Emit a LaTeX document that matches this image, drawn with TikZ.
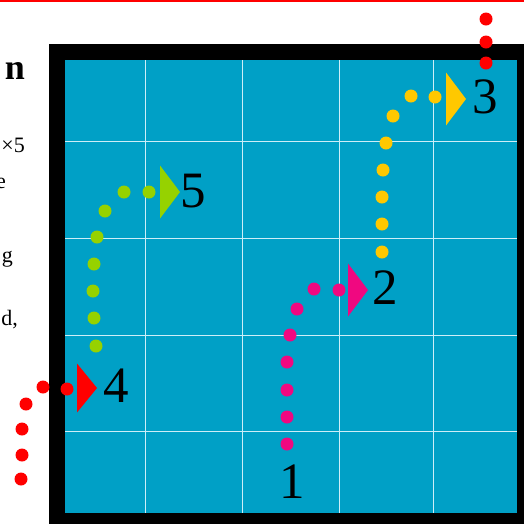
\documentclass[tikz,border=0pt]{standalone}
\usepackage{fontspec}
\setmainfont{Liberation Serif}
\usepackage{xcolor}
\usepackage{tikz}
\definecolor{board}{RGB}{0,160,198}
\definecolor{gridline}{RGB}{205,238,248}
\definecolor{pathpink}{RGB}{240,8,128}
\definecolor{pathyellow}{RGB}{255,200,0}
\definecolor{pathgreen}{RGB}{150,210,0}
\definecolor{pathred}{RGB}{255,0,0}

\begin{document}
\begin{tikzpicture}[x=1pt, y=-1pt]

  \tikzset{dot/.style={circle, fill, inner sep=0pt, minimum size=13pt},
           num/.style={font=\fontsize{51}{56}\selectfont, inner sep=0pt},
           txt/.style={font=\fontsize{22}{26}\selectfont, anchor=base east, inner sep=0pt}}

  \useasboundingbox (0,0) rectangle (524,523);
  \clip (0,0) rectangle (524,523);

  \draw[pathred, line width=1.7pt] (0,0.85) -- (524,0.85);

  % page text, cut off by the board
  \node[txt, font=\fontsize{36}{40}\selectfont\bfseries] (head) at (25,79) {n};
  \node[txt] (t1) at (25,152) {×5};
  \node[txt] (t2) at (6,188) {e};
  \node[txt] (t3) at (13,262) {g};
  \node[txt] (t4) at (18,325) {d,};

  % the board
  \fill[black] (49,44) rectangle (540,540);
  \fill[board] (65,60) rectangle (517,513);
  \foreach \x in {145,242,339,433}
    \draw[gridline, line width=1pt] (\x,60) -- (\x,513);
  \foreach \y in {141,238,335,431}
    \draw[gridline, line width=1pt] (65,\y) -- (517,\y);

  % the dotted moves
  \foreach \p [count=\i] in {(287,444),(287,417),(287,390),(287,362),
                             (290,335),(297,309),(314,289),(339,290)}
    \node[dot, pathpink] (pink\i) at \p {};
  \foreach \p [count=\i] in {(382,252),(382,224),(382,197),(383,170),
                             (386,143),(393,116),(411,96),(435,97)}
    \node[dot, pathyellow] (yellow\i) at \p {};
  \foreach \p [count=\i] in {(96,346),(94,318),(93,291),(94,264),
                             (97,237),(105,211),(124,192),(149,192)}
    \node[dot, pathgreen] (green\i) at \p {};
  \foreach \p [count=\i] in {(21,479),(22,455),(22,429),(26,404),
                             (43,387),(67,389)}
    \node[dot, pathred] (redin\i) at \p {};
  \foreach \p [count=\i] in {(486,19),(486,42),(486,63)}
    \node[dot, pathred] (redout\i) at \p {};

  % arrow heads
  \foreach \c/\x/\y/\h in {pathpink/348/290/26.5, pathyellow/446/99/26.5,
                           pathgreen/160/192/26.5, pathred/77/388/24.5}
    \fill[\c] (\x,\y-\h) -- (\x+20,\y) -- (\x,\y+\h) -- cycle;

  % square numbers
  \node[num] (n1) at (292,482) {1};
  \node[num] (n2) at (385,288) {2};
  \node[num] (n3) at (485,97) {3};
  \node[num] (n4) at (116,386) {4};
  \node[num] (n5) at (193,191) {5};

\end{tikzpicture}
\end{document}
